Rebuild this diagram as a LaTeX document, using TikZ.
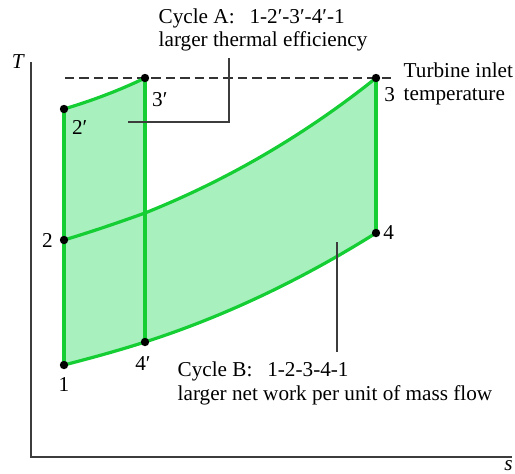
\documentclass[tikz,border=0pt]{standalone}
\usepackage{fontspec}
\setmainfont{Liberation Serif}
\usetikzlibrary{positioning,backgrounds}
\definecolor{verde}{RGB}{20,206,52}
\definecolor{verdeclaro}{RGB}{168,240,190}
\definecolor{cinza}{RGB}{60,60,60}
\tikzset{
  ciclo/.style={draw=verde, line width=1.6pt, line cap=round, line join=round},
  area/.style={fill=verdeclaro, draw=none},
  eixo/.style={draw=cinza, line width=1pt},
  guia/.style={draw=cinza, line width=0.8pt},
  tracejado/.style={draw=black!80, line width=0.75pt, dash pattern=on 4.7pt off 2.5pt},
  rotulo/.style={font={\fontsize{10.6}{11.7}\selectfont}, inner sep=1pt},
  texto/.style={font={\fontsize{10.6}{11.7}\selectfont}, align=left, inner sep=0pt, anchor=base west},
}
\begin{document}
\begin{tikzpicture}[x=0.5pt,y=-0.5pt]
    \useasboundingbox (0,0) rectangle (515,473);

    %% ---------- eixos ----------
    \coordinate (topoT) at (31,62);
    \coordinate (fimS)  at (512,457);
    \draw[eixo] (topoT) |- (fimS);
    \node[rotulo] (rotT) at (18.5,62)  {\textit{T}};
    \node[rotulo] (rotS) at (508.5,466) {\textit{s}};

    %% ---------- estados ----------
    \coordinate (p1)  at (64,365);
    \coordinate (p2)  at (64,240);
    \coordinate (p2l) at (64,109);
    \coordinate (p3l) at (145,78);
    \coordinate (p3)  at (376,78);
    \coordinate (p4)  at (376,233);
    \coordinate (p4l) at (145,342);
    \coordinate (px)  at (145,213);   % 2-3 cruza a linha 3'-4'

    %% area dos dois ciclos (uniao)
    \begin{scope}[on background layer]
      \path[area] (p1) -- (p2l)
        .. controls +(27,-8.1) and +(-27,13) .. (p3l) -- (px)
        .. controls +(76.4,-30.6) and +(-76.4,61.1) .. (p3) -- (p4)
        .. controls +(-77,48.3) and +(77,-24.8) .. (p4l)
        .. controls +(-27,8.7) and +(27,-7) .. (p1) -- cycle;
    \end{scope}

    %% temperatura de entrada na turbina
    \coordinate (tracoE) at (65,78);
    \coordinate (tracoD) at (392,78);
    \draw[tracejado] (tracoE) -- (tracoD);

    %% ---------- processos ----------
    \draw[ciclo] (p1) -- (p2l);
    \draw[ciclo] (p3l) -- (p4l);
    \draw[ciclo] (p3) -- (p4);
    \draw[ciclo] (p2l) .. controls +(27,-8.1) and +(-27,13) .. (p3l);
    \draw[ciclo] (p2) .. controls +(27,-8.1) and +(-27,9.7) .. (px)
                      .. controls +(76.4,-30.6) and +(-76.4,61.1) .. (p3);
    \draw[ciclo] (p1) .. controls +(27,-7) and +(-27,8.7) .. (p4l)
                      .. controls +(77,-24.8) and +(-77,48.3) .. (p4);

    \foreach \p in {p1,p2,p2l,p3l,p3,p4,p4l}
      \fill (\p) circle (2.1pt);

    %% ---------- rotulos dos estados ----------
    \node[rotulo, below=4.9pt of p1] (r1) {1};
    \node[rotulo, left=4.5pt of p2] (r2) {2};
    \node[rotulo, below right=4.4pt and 2.8pt of p2l] (r2l) {2′};
    \node[rotulo, below right=5.8pt and 2.4pt of p3l] (r3l) {3′};
    \node[rotulo, below right=3.3pt and 3pt of p3] (r3) {3};
    \node[rotulo, right=2.5pt of p4] (r4) {4};
    \node[rotulo, below=6.3pt of p4l, xshift=-1pt] (r4l) {4′};

    %% ---------- legendas (ancora na base da ultima linha) ----------
    \node[texto] (cicA) at (158.3,46.7) {Cycle A:\hspace{0.7em}1-2′-3′-4′-1\\larger thermal efficiency};
    \node[texto] (cicB) at (177.3,400) {Cycle B:\hspace{0.7em}1-2-3-4-1\\larger net work per unit of mass flow};
    \node[texto] (turb) at (403.3,100.5) {Turbine inlet\\temperature};

    \coordinate (guiaA) at (128,122);
    \coordinate (joelhoA) at (229,58);
    \draw[guia] (guiaA) -| (joelhoA);
    \coordinate (guiaB) at (337,242);
    \coordinate (pontaB) at (337,352);
    \draw[guia] (guiaB) -- (pontaB);

\end{tikzpicture}
\end{document}
